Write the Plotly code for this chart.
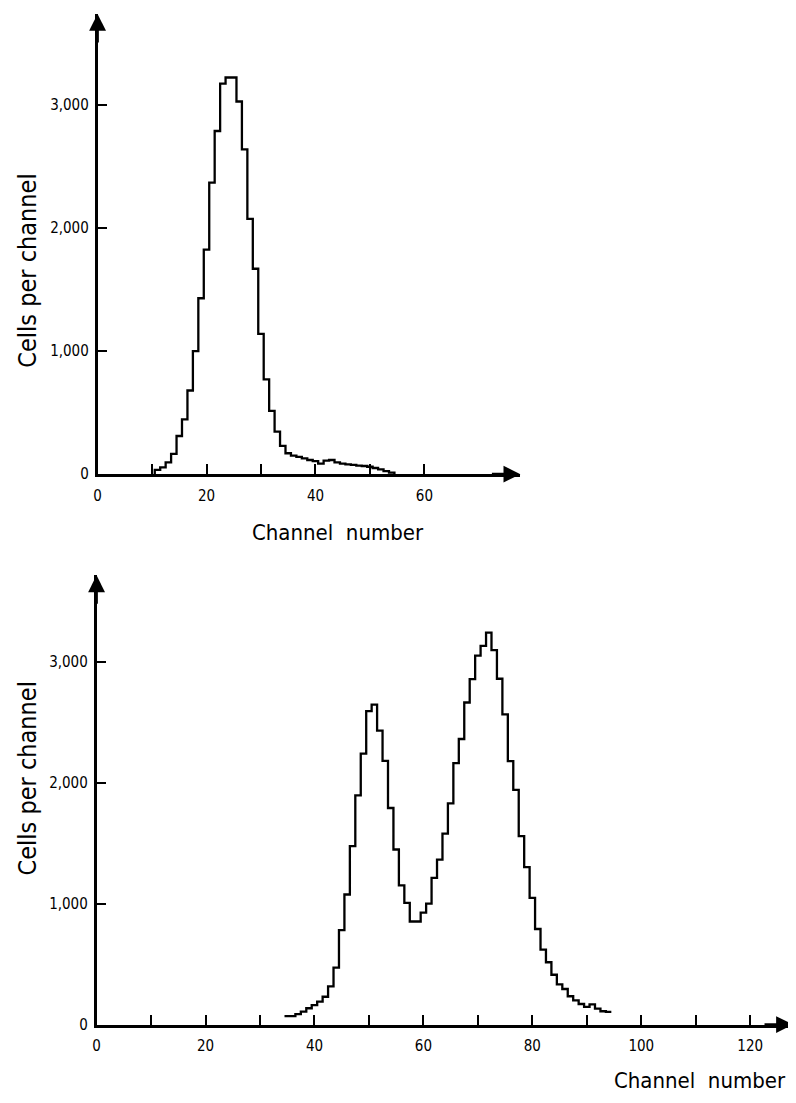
import plotly.graph_objects as go

# ---------------- data ----------------
# Top histogram: channel number (bin centre) and cells per channel
top_channels = list(range(11, 55))
top_counts = [35, 55, 95, 165, 310, 445, 680, 1000, 1430, 1825,
              2370, 2790, 3175, 3225, 3225, 3030, 2640, 2075, 1670, 1140,
              770, 515, 345, 230, 170, 150, 140, 128, 115, 105,
              85, 110, 115, 95, 85, 80, 75, 70, 66, 60,
              50, 38, 25, 12]

# Bottom histogram
bot_channels = list(range(35, 95))
bot_counts = [70, 70, 87, 107, 135, 160, 190, 230, 315, 470,
              780, 1075, 1475, 1895, 2240, 2590, 2645, 2430, 2180, 1790,
              1447, 1150, 1005, 852, 852, 925, 1000, 1212, 1363, 1578,
              1828, 2160, 2360, 2662, 2855, 3050, 3130, 3240, 3095, 2858,
              2563, 2178, 1940, 1557, 1302, 1047, 790, 620, 515, 412,
              332, 294, 234, 200, 170, 146, 167, 132, 110, 105]

top_xticks = [0, 10, 20, 30, 40, 50, 60]
top_xtext = ["0", "", "20", "", "40", "", "60"]
bot_xticks = [0, 10, 20, 30, 40, 50, 60, 70, 80, 90, 100, 110, 120]
bot_xtext = ["0", "", "20", "", "40", "", "60", "", "80", "", "100", "", "120"]
y_ticks = [0, 1000, 2000, 3000]
y_text = ["0", "1,000", "2,000", "3,000"]

# ---------------- layout constants ----------------
OFF = 8                       # default page margin of the html body
W, H = 796 - OFF, 1103 - OFF  # figure size so that the page is filled exactly
FONT = "DejaVu Sans Condensed, DejaVu Sans, sans-serif"
PX_PER_CH = 5.475


def step_xy(ch, vals, close_start, close_end):
    xs, ys = [], []
    edges = [c - 0.5 for c in ch]
    if close_start:
        xs.append(edges[0]); ys.append(0)
    for e, v in zip(edges, vals):
        xs.append(e); ys.append(v)
    xs.append(ch[-1] + 0.5); ys.append(vals[-1])
    if close_end:
        xs.append(ch[-1] + 0.5); ys.append(0)
    return xs, ys


fig = go.Figure()

tx, ty = step_xy(top_channels, top_counts, True, True)
fig.add_trace(go.Scatter(x=tx, y=ty, mode="lines", line=dict(shape="hv", color="black", width=2.3),
                         xaxis="x", yaxis="y", showlegend=False, hoverinfo="skip"))
bx, by = step_xy(bot_channels, bot_counts, False, False)
fig.add_trace(go.Scatter(x=bx, y=by, mode="lines", line=dict(shape="hv", color="black", width=2.3),
                         xaxis="x2", yaxis="y2", showlegend=False, hoverinfo="skip"))

# pixel geometry (page coordinates) of the two panels
top = dict(x0=94, x1=519, y0=478, y1=14, per1000=124.0)
bot = dict(x0=93, x1=793, y0=1033, y1=580, per1000=122.0)


def px(xp):
    return (xp - OFF) / W


def py(yp):
    return (H - (yp - OFF)) / H


def xdom(p):
    return [px(p["x0"]), px(p["x1"])]


def ydom(p):
    return [py(p["y0"]), py(p["y1"])]


def xmax(p):
    return (p["x1"] - p["x0"]) / PX_PER_CH


def ymax(p):
    return (p["y0"] - p["y1"]) / p["per1000"] * 1000


axis_common = dict(showgrid=False, zeroline=False, showline=True, linecolor="black", linewidth=2.6,
                   ticks="inside", ticklen=10, tickwidth=2, tickcolor="black",
                   tickfont=dict(family=FONT, size=15, color="black"), fixedrange=True)

fig.update_layout(
    width=W, height=H, margin=dict(l=0, r=0, t=0, b=0),
    paper_bgcolor="white", plot_bgcolor="white",
    xaxis=dict(domain=xdom(top), range=[0, xmax(top)], anchor="y",
               tickmode="array", tickvals=top_xticks, ticktext=top_xtext,
               ticklabelstandoff=6, **axis_common),
    yaxis=dict(domain=ydom(top), range=[0, ymax(top)], anchor="x",
               tickmode="array", tickvals=y_ticks, ticktext=y_text,
               ticklabelstandoff=3, **axis_common),
    xaxis2=dict(domain=xdom(bot), range=[0, xmax(bot)], anchor="y2",
                tickmode="array", tickvals=bot_xticks, ticktext=bot_xtext,
                ticklabelstandoff=6, **axis_common),
    yaxis2=dict(domain=ydom(bot), range=[0, ymax(bot)], anchor="x2",
                tickmode="array", tickvals=y_ticks, ticktext=y_text,
                ticklabelstandoff=3, **axis_common),
)

# arrow heads at the ends of the axes
for xa, ya, p in (("x", "y", top), ("x2", "y2", bot)):
    fig.add_annotation(x=xmax(p), y=0, xref=xa, yref=ya, ax=-30, ay=0, text="",
                       showarrow=True, arrowhead=2, arrowsize=1.3, arrowwidth=2.6, arrowcolor="black")
    fig.add_annotation(x=0, y=ymax(p), xref=xa, yref=ya, ax=0, ay=30, text="",
                       showarrow=True, arrowhead=2, arrowsize=1.3, arrowwidth=2.6, arrowcolor="black")

ytitle_font = dict(family=FONT, size=25, color="black")
xtitle_font = dict(family=FONT, size=22, color="black")
# axis titles
fig.add_annotation(x=px(24), y=py(273), xref="paper", yref="paper", text="Cells per channel",
                   textangle=-90, showarrow=False, font=ytitle_font, xanchor="center", yanchor="middle")
fig.add_annotation(x=px(24), y=py(785), xref="paper", yref="paper", text="Cells per channel",
                   textangle=-90, showarrow=False, font=ytitle_font, xanchor="center", yanchor="middle")
fig.add_annotation(x=px(336), y=py(537), xref="paper", yref="paper", text="Channel\u00a0 number",
                   showarrow=False, font=xtitle_font, xanchor="center", yanchor="middle")
fig.add_annotation(x=px(700), y=py(1089), xref="paper", yref="paper", text="Channel\u00a0 number",
                   showarrow=False, font=xtitle_font, xanchor="center", yanchor="middle")

fig.write_html("out.html")
